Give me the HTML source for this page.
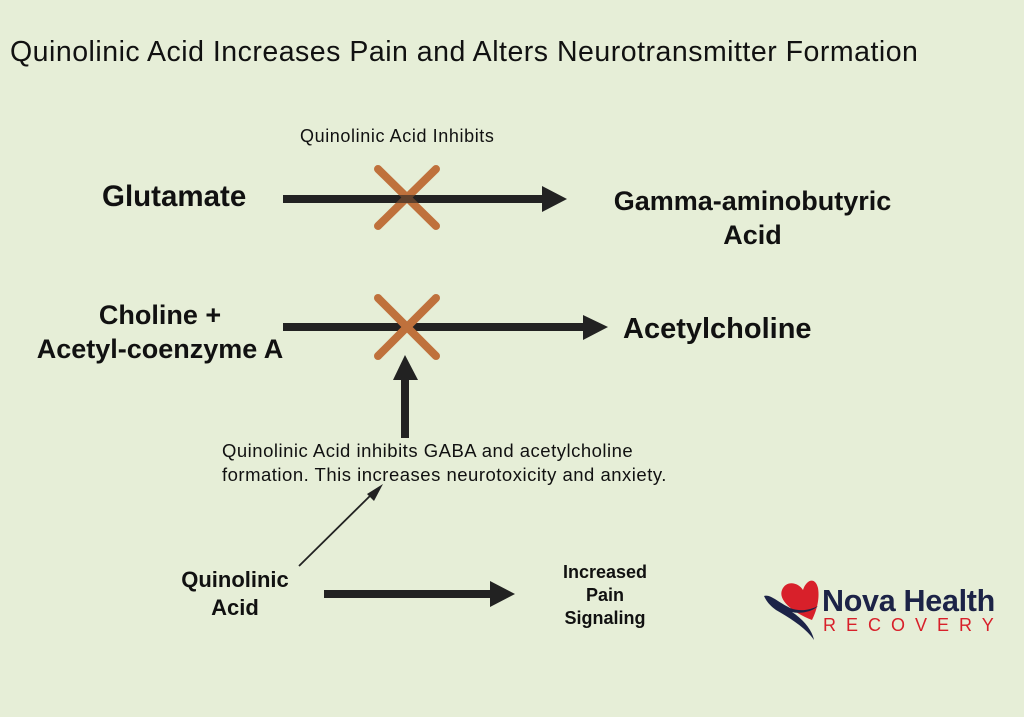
<!DOCTYPE html>
<html><head><meta charset="utf-8"><style>
body{margin:0;width:1024px;height:717px;background:#e6eed7;font-family:"Liberation Sans",sans-serif;position:relative;overflow:hidden;color:#111}
.t{position:absolute;white-space:nowrap}
.b{font-weight:bold;text-align:center}
</style></head><body>
<div class="t" style="left:10px;top:36px;font-size:28.5px;letter-spacing:0.5px;color:#111">Quinolinic Acid Increases Pain and Alters Neurotransmitter Formation</div>
<div class="t" style="left:300px;top:126px;font-size:18px;letter-spacing:0.6px">Quinolinic Acid Inhibits</div>
<div class="t b" style="left:102px;top:180px;font-size:29.5px">Glutamate</div>
<div class="t b" style="left:600px;top:184px;width:305px;font-size:27px;line-height:34px">Gamma-aminobutyric<br>Acid</div>
<div class="t b" style="left:30px;top:298px;width:260px;font-size:27px;line-height:34px">Choline +<br>Acetyl-coenzyme A</div>
<div class="t b" style="left:623px;top:313px;font-size:29px">Acetylcholine</div>
<div class="t" style="left:222px;top:439px;font-size:18.5px;letter-spacing:0.5px;line-height:24px">Quinolinic Acid inhibits GABA and acetylcholine<br>formation. This increases neurotoxicity and anxiety.</div>
<div class="t b" style="left:160px;top:566px;width:150px;font-size:22px;line-height:28px">Quinolinic<br>Acid</div>
<div class="t b" style="left:530px;top:561px;width:150px;font-size:18px;line-height:23px">Increased<br>Pain<br>Signaling</div>
<svg width="1024" height="717" style="position:absolute;left:0;top:0">
<g stroke="#222" fill="#222">
<line x1="283" y1="199" x2="545" y2="199" stroke-width="8"/>
<polygon points="542,186 567,199 542,212" stroke="none"/>
<line x1="283" y1="327" x2="585" y2="327" stroke-width="8"/>
<polygon points="583,315 608,327 583,340" stroke="none"/>
<line x1="405" y1="438" x2="405" y2="376" stroke-width="8"/>
<polygon points="393,380 405,355 418,380" stroke="none"/>
<line x1="324" y1="594" x2="492" y2="594" stroke-width="8"/>
<polygon points="490,581 515,594 490,607" stroke="none"/>
<line x1="299" y1="566" x2="376" y2="490" stroke-width="1.8"/>
<polygon points="383,484 374,501 367,494" stroke="none"/>
</g>
<g stroke="#bf713c" stroke-width="8" stroke-linecap="round">
<line x1="378" y1="169" x2="436" y2="226"/><line x1="436" y1="169" x2="378" y2="226"/>
<line x1="378" y1="298" x2="436" y2="356"/><line x1="436" y1="298" x2="378" y2="356"/>
</g>
<line x1="283" y1="199" x2="545" y2="199" stroke="#222" stroke-width="8" opacity="0.6"/>
<!-- logo -->
<path d="M812 620 C792 612 778 600 782 590 C786 580 798 582 803 590 C806 580 815 576 818 588 C820 600 816 612 812 620Z" fill="#d8202a"/>
<path d="M764 596 C770 594 778 602 790 608 C800 612 810 610 818 606 C812 612 800 614 792 612 C804 620 812 630 814 640 C806 628 790 618 776 610 C768 604 766 600 764 596Z" fill="#1c2347"/>
</svg>
<div class="t" style="left:822px;top:584px;font-size:30.5px;font-weight:bold;color:#1c2347;letter-spacing:-0.3px">Nova Health</div>
<div class="t" style="left:823px;top:615px;font-size:18px;color:#d8202a;letter-spacing:10px">RECOVERY</div>
</body></html>
